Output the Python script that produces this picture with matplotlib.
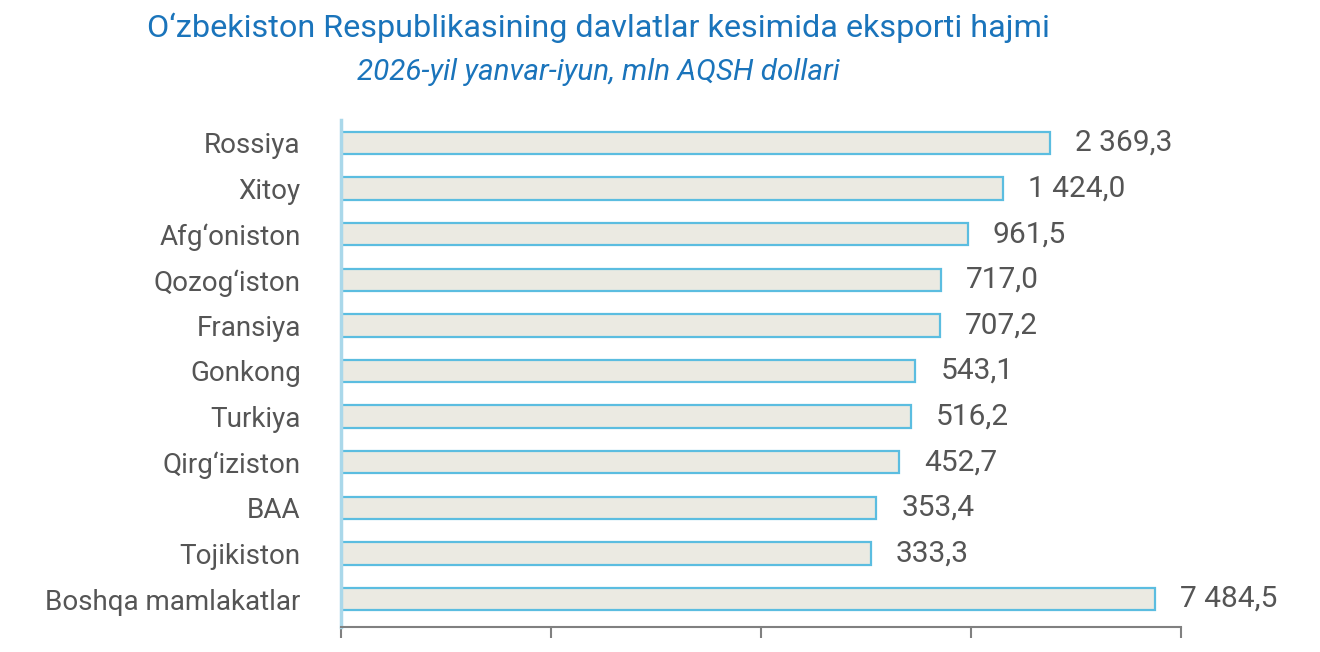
import matplotlib
matplotlib.use("Agg")
import matplotlib.pyplot as plt
from matplotlib import font_manager

countries = ["Rossiya", "Xitoy", "Afg\u2018oniston", "Qozog\u2018iston", "Fransiya", "Gonkong",
             "Turkiya", "Qirg\u2018iziston", "BAA", "Tojikiston", "Boshqa mamlakatlar"]
values = [2369.3, 1424.0, 961.5, 717.0, 707.2, 543.1, 516.2, 452.7, 353.4, 333.3, 7484.5]
x_ticks = [1, 10, 100, 1000, 10000]

title = "O\u2018zbekiston Respublikasining davlatlar kesimida eksporti hajmi"
subtitle = "2026-yil yanvar-iyun, mln AQSH dollari"

plt.rcParams["font.family"] = ["Roboto", "DejaVu Sans"]

def fmt(v):
    s = f"{v:,.1f}"
    return s.replace(",", " ").replace(".", ",")

fig = plt.figure(figsize=(13.2, 6.52), dpi=100)
ax = fig.add_axes([341/1320, 1-627/652, 840/1320, 507/652])

y = list(range(len(countries)))
ax.barh(y, values, height=0.49, left=1, color="#ebeae2", edgecolor="#5bbde0", linewidth=1.6)
ax.set_xscale("log")
ax.set_xlim(1, 10000)
ax.set_ylim(len(countries) - 1 + 0.614, -0.504)
ax.set_xticks(x_ticks)
ax.xaxis.set_minor_locator(matplotlib.ticker.NullLocator())
ax.set_xticklabels([])
ax.tick_params(axis="x", direction="out", length=8, width=1.5, color="#808080")
ax.set_yticks(y)
ax.set_yticklabels(countries, fontsize=20, color="#555555")
ax.tick_params(axis="y", length=0, pad=29)

for s in ["top", "right"]:
    ax.spines[s].set_visible(False)
ax.spines["bottom"].set_color("#808080")
ax.spines["bottom"].set_linewidth(1.5)
ax.spines["left"].set_color("#aad8ea")
ax.spines["left"].set_linewidth(2.5)

for yi, v in zip(y, values):
    ax.annotate(fmt(v), (v, yi), xytext=(25, 0), textcoords="offset pixels",
                va="center", ha="left", fontsize=21.5, color="#555555")

fig.text(598/1320, 1-28/652, title, ha="center", va="center", fontsize=23.3, color="#1a74bb")
fig.text(598/1320, 1-72/652, subtitle, ha="center", va="center", fontsize=21.3, color="#1a74bb",
         style="italic")

fig.savefig("out.png", dpi=100)
